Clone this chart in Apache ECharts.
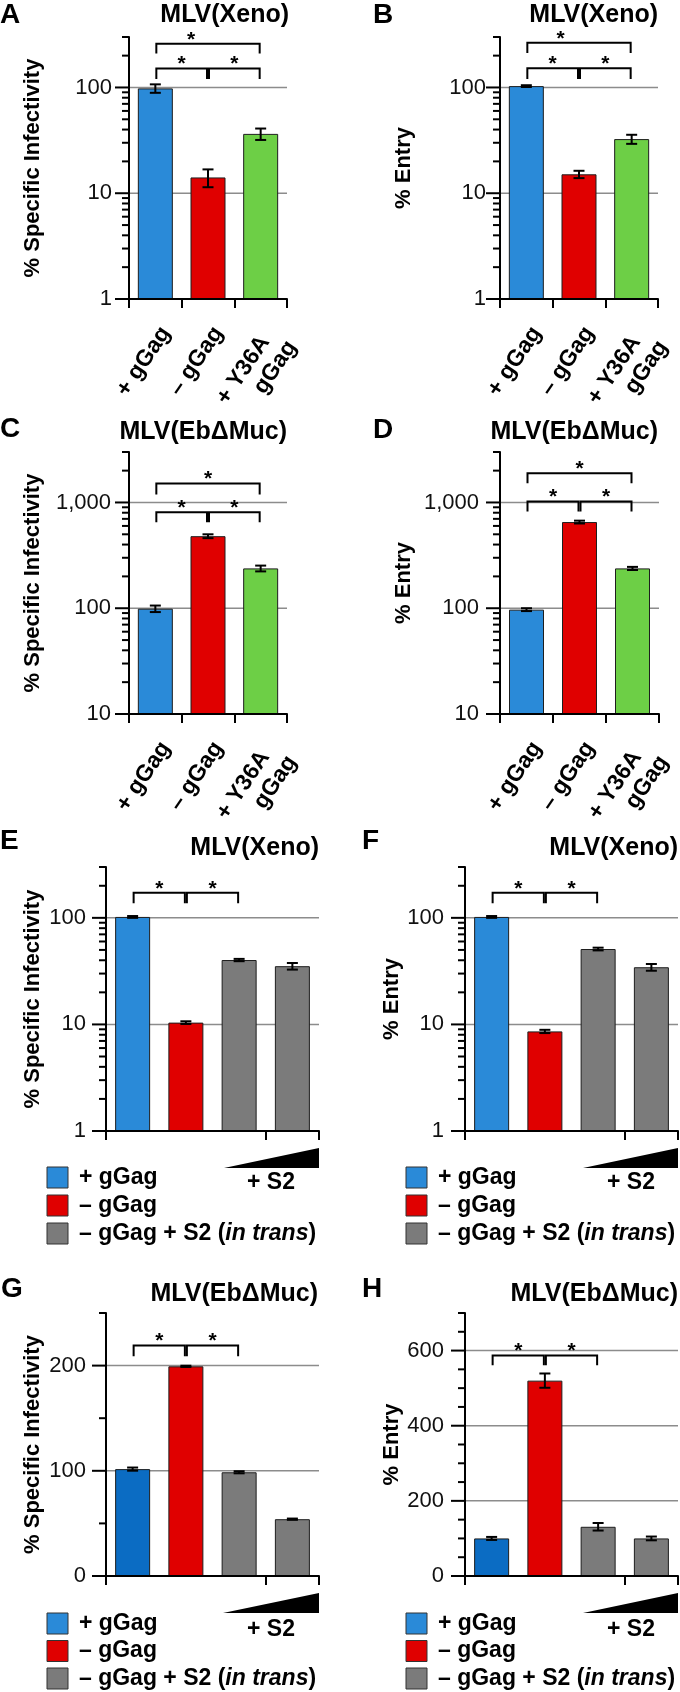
<!DOCTYPE html>
<html><head><meta charset="utf-8">
<script src="https://cdn.jsdelivr.net/npm/echarts@6/dist/echarts.min.js"></script>
<style>html,body{margin:0;padding:0;background:#fff}#c{width:680px;height:1692px}</style>
</head><body><div id="c"></div>
<script>
// ---------------- data ----------------
const catsTop = ['+ gGag', '– gGag', '+ Y36A\ngGag'];
const catsBottom = ['+ gGag', '– gGag', '– gGag + S2 (low)', '– gGag + S2 (high)'];

const valA = [98, 14.1, 36.4];   const errA = [9, 2.7, 4.5];
const valB = [103, 15.1, 32.5];  const errB = [2, 1.2, 3.2];
const valC = [99, 480, 238];     const errC = [7, 20, 15];
const valD = [97, 653, 238];     const errD = [3, 20, 8];
const valE = [102, 10.4, 40.2, 35.2]; const errE = [2, 0.3, 1, 2.5];
const valF = [102, 8.6, 51, 34.4];    const errF = [2, 0.3, 1.5, 2.5];
const valG = [101.6, 199.3, 98.6, 54]; const errG = [1.5, 0.6, 1, 0.6];
const valH = [100, 520, 131, 100];     const errH = [4, 19, 10, 5];

// significance brackets: [from, to, bracketTop, legBottom, starPosition]
const brA = [[0, 2, 259, 209, 0.68], [0, 1, 151, 120, 0.5], [1, 2, 151, 120, 1.5]];
const brB = [[0, 2, 264, 212, 0.65], [0, 1, 152, 120, 0.5], [1, 2, 152, 120, 1.5]];
const brC = [[0, 2, 1508, 1189, 1], [0, 1, 806, 649, 0.5], [1, 2, 806, 649, 1.5]];
const brD = [[0, 2, 1885, 1517, 1], [0, 1, 1022, 823, 0.5], [1, 2, 1022, 823, 1.5]];
const brE = [[0, 1, 172, 137, 0.5], [1, 2, 172, 137, 1.5]];
const brF = [[0, 1, 172, 137, 0.5], [1, 2, 172, 137, 1.5]];
const brG = [[0, 1, 219, 209, 0.5], [1, 2, 219, 209, 1.5]];
const brH = [[0, 1, 587, 561, 0.5], [1, 2, 587, 561, 1.5]];

// axis ticks / labels
const ticksLog1 = [1,2,3,4,5,6,7,8,9,10,20,30,40,50,60,70,80,90,100,200,300];
const majorsLog1 = [1, 10, 100];
const ticksLog10 = [10,20,30,40,50,60,70,80,90,100,200,300,400,500,600,700,800,900,1000,2000,3000];
const majorsLog10 = [10, 100, 1000];
const ticksG = [0, 50, 100, 150, 200, 250];
const majorsG = [0, 100, 200];
const ticksH = [0,50,100,150,200,250,300,350,400,450,500,550,600,650,700];
const majorsH = [0, 200, 400, 600];
const gridLog1 = [10, 100];
const gridLog10 = [100, 1000];
const gridG = [100, 200];
const gridH = [200, 400, 600];

const titles = ['MLV(Xeno)', 'MLV(Xeno)', 'MLV(EbΔMuc)', 'MLV(EbΔMuc)', 'MLV(Xeno)', 'MLV(Xeno)', 'MLV(EbΔMuc)', 'MLV(EbΔMuc)'];
const letters = ['A', 'B', 'C', 'D', 'E', 'F', 'G', 'H'];
const yNames = ['% Specific Infectivity', '% Entry', '% Specific Infectivity', '% Entry', '% Specific Infectivity', '% Entry', '% Specific Infectivity', '% Entry'];
const legendLabels = ['+ gGag', '– gGag', '– gGag + S2 (', 'in trans', ')'];
const s2Label = '+ S2';

// colours
const BLUE = '#2a8ad8', BLUE2 = '#0b6cc3', RED = '#e00000', GREEN = '#6dcf46', GRAY = '#7b7b7b';
const colTop = [BLUE, RED, GREEN];
const colEF = [BLUE, RED, GRAY, GRAY];
const colGH = [BLUE2, RED, GRAY, GRAY];
const legendColors = [BLUE, RED, GRAY];

const FONT = '"Liberation Sans", Arial, Helvetica, sans-serif';

// ---------------- layout ----------------
const panels = [
  {vals: valA, errs: errA, cats: catsTop, cols: colTop, br: brA, type: 'log', min: 1, max: 300, ticks: ticksLog1, majors: majorsLog1, grid: gridLog1,
   pos: {left: 129, top: 37, width: 158, height: 262}, nameGap: 85, lm: 17, xl: true, title: [289, 15], letter: [0, 15]},
  {vals: valB, errs: errB, cats: catsTop, cols: colTop, br: brB, type: 'log', min: 1, max: 300, ticks: ticksLog1, majors: majorsLog1, grid: gridLog1,
   pos: {left: 500, top: 37, width: 158, height: 262}, nameGap: 85, lm: 14, xl: true, title: [658, 15], letter: [373, 15]},
  {vals: valC, errs: errC, cats: catsTop, cols: colTop, br: brC, type: 'log', min: 10, max: 3000, ticks: ticksLog10, majors: majorsLog10, grid: gridLog10,
   pos: {left: 129, top: 452, width: 158, height: 262}, nameGap: 85, lm: 18, xl: true, title: [287, 432], letter: [0, 429]},
  {vals: valD, errs: errD, cats: catsTop, cols: colTop, br: brD, type: 'log', min: 10, max: 3000, ticks: ticksLog10, majors: majorsLog10, grid: gridLog10,
   pos: {left: 500, top: 452, width: 159, height: 262}, nameGap: 85, lm: 21, xl: true, title: [658, 432], letter: [373, 430]},
  {vals: valE, errs: errE, cats: catsBottom, cols: colEF, br: brE, type: 'log', min: 1, max: 300, ticks: ticksLog1, majors: majorsLog1, grid: gridLog1,
   pos: {left: 106, top: 867, width: 213, height: 264}, nameGap: 62, lm: 20, xl: false, title: [319, 848], letter: [0, 841]},
  {vals: valF, errs: errF, cats: catsBottom, cols: colEF, br: brF, type: 'log', min: 1, max: 300, ticks: ticksLog1, majors: majorsLog1, grid: gridLog1,
   pos: {left: 465, top: 867, width: 213, height: 264}, nameGap: 62, lm: 21, xl: false, title: [678, 848], letter: [362, 841]},
  {vals: valG, errs: errG, cats: catsBottom, cols: colGH, br: brG, type: 'value', min: 0, max: 250, interval: 50, ticks: ticksG, majors: majorsG, grid: gridG,
   pos: {left: 106, top: 1313, width: 213, height: 263}, nameGap: 62, lm: 20, xl: false, title: [318, 1294], letter: [1, 1289]},
  {vals: valH, errs: errH, cats: catsBottom, cols: colGH, br: brH, type: 'value', min: 0, max: 700, interval: 50, ticks: ticksH, majors: majorsH, grid: gridH,
   pos: {left: 465, top: 1313, width: 213, height: 263}, nameGap: 62, lm: 21, xl: false, title: [678, 1294], letter: [362, 1289]}
];

const legends = [
  {rx: 47, tx: 79, rows: [1177.5, 1205.5, 1233.5], tri: [[224, 1168], [319, 1148], [319, 1168]], s2: [271, 1183]},
  {rx: 406, tx: 438, rows: [1177.5, 1205.5, 1233.5], tri: [[583, 1168], [678, 1148], [678, 1168]], s2: [631, 1183]},
  {rx: 47, tx: 79, rows: [1623.5, 1651, 1678.5], tri: [[223, 1613], [319, 1593], [319, 1613]], s2: [271, 1630]},
  {rx: 406, tx: 438, rows: [1623.5, 1651, 1678.5], tri: [[583, 1613], [678, 1593], [678, 1613]], s2: [631, 1630]}
];

function fmtNum(v) { return String(v).replace(/\B(?=(\d{3})+(?!\d))/g, ','); }

const TITLE_SIZE = 25;
const XL_SIZE = 23;
const option = {animation: false, title: [], grid: [], xAxis: [], yAxis: [], series: [], graphic: []};

const xTok = {fontSize: XL_SIZE, fontWeight: 'bold', fontFamily: FONT, color: '#000', lineHeight: 25};
const xLabelRich = {
  s: Object.assign({}, xTok),
  l: Object.assign({align: 'left', padding: [0, 11, 0, 0]}, xTok),
  r: Object.assign({align: 'right'}, xTok)
};
function xLabelFmt(v) {
  const parts = v.split('\n');
  if (parts.length === 1) return '{s|' + v + '}';
  return '{l|' + parts[0] + '}\n{r|' + parts[1] + '}';
}

panels.forEach((p, i) => {
  option.grid.push(Object.assign({containLabel: false}, p.pos));
  option.xAxis.push({
    type: 'category', gridIndex: i, data: p.cats, z: 5,
    axisLine: {lineStyle: {color: '#000', width: 2}},
    axisTick: {show: true, length: 9, lineStyle: {color: '#000', width: 2}},
    axisLabel: p.xl ? {
      show: true, interval: 0, rotate: 56, margin: 23, verticalAlign: 'top', color: '#000',
      fontSize: XL_SIZE, fontWeight: 'bold', fontFamily: FONT, lineHeight: 25,
      formatter: xLabelFmt, rich: xLabelRich
    } : {show: false},
    splitLine: {show: false}
  });
  const majors = p.majors;
  const y = {
    type: p.type, gridIndex: i, min: p.min, max: p.max, z: 5,
    axisLine: {show: true, lineStyle: {color: '#000', width: 2}},
    axisTick: {show: false}, splitLine: {show: false},
    axisLabel: {
      margin: p.lm, color: '#111', fontSize: 22, fontFamily: FONT,
      formatter: v => { const r = Math.round(v); return (Math.abs(v - r) < 1e-6 && majors.indexOf(r) >= 0) ? fmtNum(r) : ''; }
    },
    name: yNames[i], nameLocation: 'middle', nameGap: p.nameGap, nameRotate: 90,
    nameTextStyle: {fontSize: 22, fontWeight: 'bold', fontFamily: FONT, color: '#000'}
  };
  if (p.interval) y.interval = p.interval;
  if (p.type === 'log') { y.logBase = 10; y.startValue = p.min; }
  option.yAxis.push(y);

  // gridlines (behind bars)
  option.series.push({
    type: 'custom', xAxisIndex: i, yAxisIndex: i, z: 1, silent: true,
    encode: {x: 0, y: 1},
    data: p.grid.map(v => [0, v]),
    renderItem: (params, api) => {
      const cs = params.coordSys; const yy = api.coord([0, api.value(1)])[1];
      return {type: 'line', shape: {x1: cs.x, y1: yy, x2: cs.x + cs.width, y2: yy}, style: {stroke: '#8c8c8c', lineWidth: 1.5}};
    }
  });
  // bars
  option.series.push({
    type: 'bar', xAxisIndex: i, yAxisIndex: i, z: 2, barWidth: 35, silent: true,
    data: p.vals.map((v, k) => ({value: v, itemStyle: {color: p.cols[k], borderColor: '#1e1e1e', borderWidth: 1}}))
  });
  // error bars
  option.series.push({
    type: 'custom', xAxisIndex: i, yAxisIndex: i, z: 3, silent: true,
    encode: {x: 0, y: 1},
    data: p.vals.map((v, k) => [k, v - p.errs[k], v + p.errs[k]]),
    renderItem: (params, api) => {
      const k = api.value(0);
      const hi = api.coord([k, api.value(2)]), lo = api.coord([k, api.value(1)]);
      const cx = hi[0], w = 5.5, st = {stroke: '#000', lineWidth: 2};
      return {type: 'group', children: [
        {type: 'line', shape: {x1: cx, y1: hi[1], x2: cx, y2: lo[1]}, style: st},
        {type: 'line', shape: {x1: cx - w, y1: hi[1], x2: cx + w, y2: hi[1]}, style: st},
        {type: 'line', shape: {x1: cx - w, y1: lo[1], x2: cx + w, y2: lo[1]}, style: st}
      ]};
    }
  });
  // significance brackets
  option.series.push({
    type: 'custom', xAxisIndex: i, yAxisIndex: i, z: 3, silent: true,
    encode: {x: 0, y: 2},
    data: p.br,
    renderItem: (params, api) => {
      const a = api.value(0), b = api.value(1), top = api.value(2), leg = api.value(3), sp = api.value(4);
      const pa = api.coord([a, top]), pb = api.coord([b, top]);
      const yl = api.coord([a, leg])[1];
      const xa = pa[0] + 1, xb = pb[0] - 1, yt = pa[1];
      const sx = pa[0] + (pb[0] - pa[0]) * (sp - a) / (b - a);
      return {type: 'group', children: [
        {type: 'polyline', shape: {points: [[xa, yl], [xa, yt], [xb, yt], [xb, yl]]}, style: {stroke: '#000', lineWidth: 2, fill: null}},
        {type: 'text', style: {text: '*', x: sx, y: yt - 4, align: 'center', verticalAlign: 'middle', fontSize: 21, fontWeight: 'bold', fontFamily: FONT, fill: '#000'}}
      ]};
    }
  });
  // y-axis ticks (major + minor)
  option.series.push({
    type: 'custom', xAxisIndex: i, yAxisIndex: i, z: 6, silent: true,
    encode: {x: 0, y: 1},
    data: p.ticks.map(v => [0, v, majors.indexOf(v) >= 0 ? 1 : 0]),
    renderItem: (params, api) => {
      const cs = params.coordSys; const yy = api.coord([0, api.value(1)])[1];
      const len = api.value(2) ? 14 : 7;
      return {type: 'line', shape: {x1: cs.x - len, y1: yy, x2: cs.x, y2: yy}, style: {stroke: '#000', lineWidth: 2}};
    }
  });

  // panel title (right-aligned to the plot's right edge)
  option.title.push({
    text: titles[i], right: 680 - p.title[0], top: p.title[1] - TITLE_SIZE / 2, padding: 0,
    textStyle: {fontSize: TITLE_SIZE, fontWeight: 'bold', fontFamily: FONT, color: '#000', lineHeight: TITLE_SIZE}
  });
  option.graphic.push({type: 'text', x: p.letter[0], y: p.letter[1], silent: true,
    style: {text: letters[i], align: 'left', verticalAlign: 'middle', fontSize: 28, fontWeight: 'bold', fontFamily: FONT, fill: '#000'}});
});

// legends, wedges, "+ S2"
legends.forEach(L => {
  L.rows.forEach((cy, r) => {
    option.graphic.push({type: 'rect', silent: true, shape: {x: L.rx, y: cy - 10.5, width: 21, height: 21},
      style: {fill: legendColors[r], stroke: '#333', lineWidth: 1}});
    const txt = r < 2 ? '{a|' + legendLabels[r] + '}' :
      '{a|' + legendLabels[2] + '}{b|' + legendLabels[3] + '}{a|' + legendLabels[4] + '}';
    option.graphic.push({type: 'text', x: L.tx, y: cy, silent: true,
      style: {text: txt, verticalAlign: 'middle', align: 'left',
        rich: {a: {fontSize: 23, fontWeight: 'bold', fontFamily: FONT, fill: '#000'},
               b: {fontSize: 23, fontWeight: 'bold', fontStyle: 'italic', fontFamily: FONT, fill: '#000'}}}});
  });
  option.graphic.push({type: 'polygon', silent: true, shape: {points: L.tri}, style: {fill: '#000'}});
  option.graphic.push({type: 'text', x: L.s2[0], y: L.s2[1], silent: true,
    style: {text: s2Label, align: 'center', verticalAlign: 'middle', fontSize: 23, fontWeight: 'bold', fontFamily: FONT, fill: '#000'}});
});

const chart = echarts.init(document.getElementById('c'), null, {renderer: 'canvas'});
chart.setOption(option);
</script></body></html>
